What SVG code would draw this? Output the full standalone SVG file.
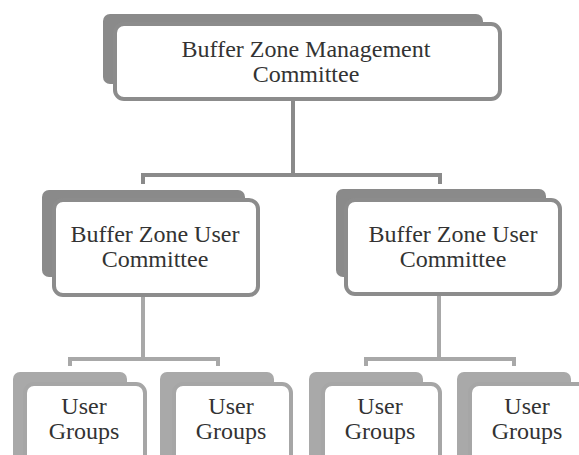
<svg xmlns="http://www.w3.org/2000/svg" width="579" height="455" viewBox="0 0 579 455">
<style>
.sh1{fill:#8a8a8a}
.bx1{fill:#fff;stroke:#8c8c8c;stroke-width:4}
.sh2{fill:#a9a9a9}
.bx2{fill:#fff;stroke:#a6a6a6;stroke-width:4}
.t{font-family:'Liberation Serif','Times New Roman','DejaVu Serif',serif;font-size:24px;fill:#333;text-anchor:middle}
.c1{fill:none;stroke:#8a8a8a;stroke-width:4}
.c2{fill:none;stroke:#a8a8a8;stroke-width:4}
</style>
<rect width="579" height="455" fill="#fff"/>
<g id="connectors">
<path class="c1" d="M293,100 V175 M143,184 V175 H440 V184"/>
<path class="c2" d="M143,297 V359 M70,366 V359 H218 V366"/>
<path class="c2" d="M439,295 V359 M366,366 V359 H514 V366"/>
</g>
<g id="n-bzmc">
<rect class="sh1" x="103" y="14" width="380" height="70" rx="7"/>
<rect class="bx1" x="115" y="24" width="385" height="75" rx="9"/>
<text class="t" x="306" y="57">Buffer Zone Management</text>
<text class="t" x="306" y="82">Committee</text>
</g>
<g id="n-bzuc-left">
<rect class="sh1" x="42" y="190" width="203" height="87" rx="7"/>
<rect class="bx1" x="54" y="200" width="204" height="95" rx="9"/>
<text class="t" x="155" y="242">Buffer Zone User</text>
<text class="t" x="155" y="267">Committee</text>
</g>
<g id="n-bzuc-right">
<rect class="sh1" x="336" y="189" width="210" height="88" rx="7"/>
<rect class="bx1" x="346" y="200" width="214" height="94" rx="9"/>
<text class="t" x="453" y="242">Buffer Zone User</text>
<text class="t" x="453" y="267">Committee</text>
</g>
<g id="n-ug1">
<rect class="sh2" x="13" y="372" width="114" height="100" rx="7"/>
<rect class="bx2" x="25" y="384" width="120" height="90" rx="9"/>
<text class="t" x="84" y="414">User</text>
<text class="t" x="84" y="439">Groups</text>
</g>
<g id="n-ug2">
<rect class="sh2" x="160" y="372" width="114" height="100" rx="7"/>
<rect class="bx2" x="174" y="384" width="117" height="90" rx="9"/>
<text class="t" x="231" y="414">User</text>
<text class="t" x="231" y="439">Groups</text>
</g>
<g id="n-ug3">
<rect class="sh2" x="309" y="372" width="114" height="100" rx="7"/>
<rect class="bx2" x="323" y="384" width="117" height="90" rx="9"/>
<text class="t" x="380" y="414">User</text>
<text class="t" x="380" y="439">Groups</text>
</g>
<g id="n-ug4">
<rect class="sh2" x="457" y="372" width="114" height="100" rx="7"/>
<rect class="bx2" x="470" y="384" width="118" height="90" rx="9"/>
<text class="t" x="527" y="414">User</text>
<text class="t" x="527" y="439">Groups</text>
</g>
</svg>
